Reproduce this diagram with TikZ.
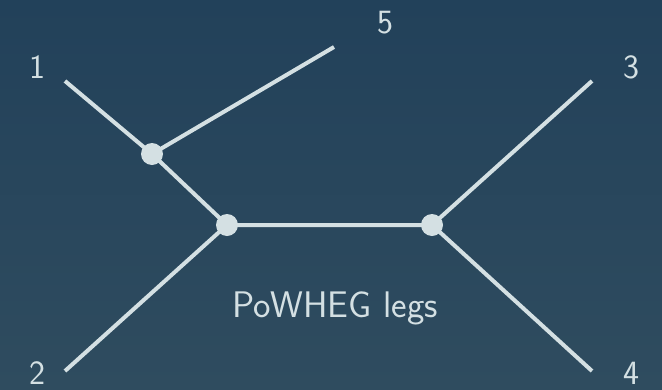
\documentclass[tikz,border=0pt]{standalone}
\definecolor{bgtop}{HTML}{22415A}
\definecolor{bgbot}{HTML}{2F4C5F}
\definecolor{ink}{HTML}{D4E0E3}
\begin{document}
\begin{tikzpicture}[x=1pt,y=-1pt,
  leg/.style={draw=ink,line width=4pt},
  vertex/.style={circle,fill=ink,inner sep=0pt,minimum size=22pt},
  lbl/.style={text=ink,font=\sffamily\fontsize{34}{34}\selectfont,inner sep=0pt,anchor=center},
  caption/.style={text=ink,font=\sffamily\fontsize{37}{37}\selectfont,inner sep=0pt}]
  % background
  \shade[top color=bgtop,bottom color=bgbot] (0,0) rectangle (662,389);
  \useasboundingbox (0,0) rectangle (662,389);

  % external leg ends
  \coordinate (e1) at (65,81);
  \coordinate (e2) at (65,371);
  \coordinate (e3) at (592,81);
  \coordinate (e4) at (592,371);
  \coordinate (e5) at (334,47);

  % vertex positions
  \coordinate (va) at (152,154);
  \coordinate (vb) at (227,225);
  \coordinate (vc) at (432,225);

  % propagators and external legs
  \draw[leg] (e1) -- (va) -- (vb) -- (vc);
  \draw[leg] (va) -- (e5);
  \draw[leg] (vb) -- (e2);
  \draw[leg] (vc) -- (e3);
  \draw[leg] (vc) -- (e4);

  % vertex dots
  \node[vertex] (da) at (va) {};
  \node[vertex] (db) at (vb) {};
  \node[vertex] (dc) at (vc) {};

  % labels
  \node[lbl] (l1) at (37,67) {1};
  \node[lbl] (l2) at (37,373) {2};
  \node[lbl] (l3) at (631,67) {3};
  \node[lbl] (l4) at (631,373) {4};
  \node[lbl] (l5) at (385,23) {5};
  \node[caption] (cap) at (335,308) {PoWHEG legs};
\end{tikzpicture}
\end{document}
